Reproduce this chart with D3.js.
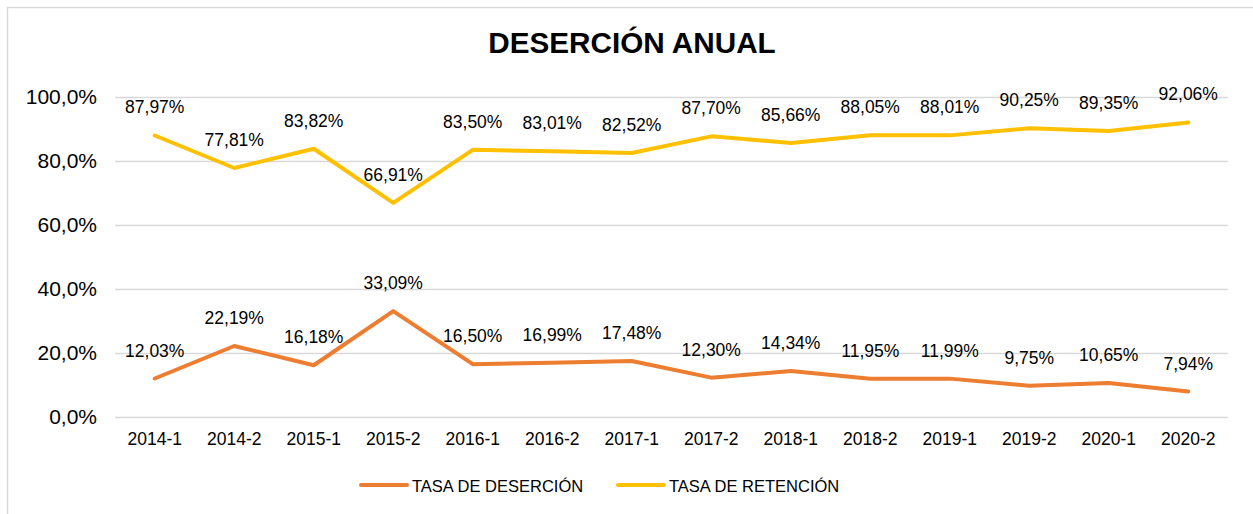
<!DOCTYPE html>
<html>
<head>
<meta charset="utf-8">
<script src="https://cdn.jsdelivr.net/npm/d3@7"></script>
<style>
  body { margin: 0; background: #fff; }
  svg { display: block; font-family: Arial, "Liberation Sans", sans-serif; }
</style>
</head>
<body>
<div id="chart"></div>
<script>
var svgWidth = 1253;
var svgHeight = 514;

var margin = { top: 97, right: 25, bottom: 97, left: 115 };
var width = svgWidth - margin.left - margin.right;
var height = svgHeight - margin.top - margin.bottom;

// data
var periods = ["2014-1", "2014-2", "2015-1", "2015-2", "2016-1", "2016-2", "2017-1",
               "2017-2", "2018-1", "2018-2", "2019-1", "2019-2", "2020-1", "2020-2"];
var desercion = [0.1203, 0.2219, 0.1618, 0.3309, 0.1650, 0.1699, 0.1748,
                 0.1230, 0.1434, 0.1195, 0.1199, 0.0975, 0.1065, 0.0794];
var retencion = [0.8797, 0.7781, 0.8382, 0.6691, 0.8350, 0.8301, 0.8252,
                 0.8770, 0.8566, 0.8805, 0.8801, 0.9025, 0.8935, 0.9206];
var yTicks = [0, 0.2, 0.4, 0.6, 0.8, 1.0];

var series = [
  { name: "TASA DE DESERCIÓN", values: desercion, color: "#ED7D31" },
  { name: "TASA DE RETENCIÓN", values: retencion, color: "#FFC000" }
];

var es = d3.formatLocale({ decimal: ",", thousands: ".", grouping: [3], currency: ["", "€"] });
var pct2 = es.format(".2%");
var pct1 = es.format(".1%");

var svg = d3.select("#chart").append("svg")
  .attr("width", svgWidth)
  .attr("height", svgHeight);

// chart frame
svg.append("rect")
  .attr("x", 7.5).attr("y", 7.5)
  .attr("width", svgWidth + 20).attr("height", svgHeight + 20)
  .attr("fill", "none")
  .attr("stroke", "#D9D9D9")
  .attr("stroke-width", 1.5);

svg.append("text")
  .attr("x", 632).attr("y", 53)
  .attr("text-anchor", "middle")
  .style("font-size", "29.7px")
  .style("font-weight", "bold")
  .attr("fill", "#000")
  .text("DESERCIÓN ANUAL");

var chartGroup = svg.append("g")
  .attr("transform", `translate(${margin.left}, ${margin.top})`);

var xScale = d3.scaleBand()
  .domain(periods)
  .range([0, width]);

var yScale = d3.scaleLinear()
  .domain([0, 1])
  .range([height, 0]);

// gridlines + y labels
var leftAxis = d3.axisLeft(yScale)
  .tickValues(yTicks)
  .tickSize(-width)
  .tickPadding(18)
  .tickFormat(pct1);

var yAxis = chartGroup.append("g").call(leftAxis);
yAxis.select(".domain").remove();
yAxis.selectAll(".tick line").attr("stroke", "#D9D9D9").attr("stroke-width", 1.5);
yAxis.selectAll(".tick text")
  .attr("fill", "#000")
  .style("font-size", "21px")
  .attr("x", -18);

// x axis labels
var bottomAxis = d3.axisBottom(xScale).tickSize(0).tickPadding(16);
var xAxis = chartGroup.append("g")
  .attr("transform", `translate(0, ${height})`)
  .call(bottomAxis);
xAxis.select(".domain").remove();
xAxis.selectAll(".tick text")
  .attr("fill", "#000")
  .style("font-size", "17.5px");

var xc = function(i) { return xScale(periods[i]) + xScale.bandwidth() / 2; };

var line = d3.line()
  .x(function(d, i) { return xc(i); })
  .y(function(d) { return yScale(d); });

series.forEach(function(s) {
  chartGroup.append("path")
    .datum(s.values)
    .attr("fill", "none")
    .attr("stroke", s.color)
    .attr("stroke-width", 4)
    .attr("stroke-linejoin", "round")
    .attr("stroke-linecap", "round")
    .attr("d", line);

  chartGroup.selectAll(null)
    .data(s.values)
    .enter()
    .append("text")
    .attr("x", function(d, i) { return xc(i); })
    .attr("y", function(d) { return yScale(d) - 22; })
    .attr("text-anchor", "middle")
    .attr("fill", "#000")
    .style("font-size", "17.5px")
    .text(function(d) { return pct2(d); });
});

// legend
var legend = svg.append("g");
var legendX = [361, 618];
series.forEach(function(s, i) {
  legend.append("line")
    .attr("x1", legendX[i]).attr("x2", legendX[i] + 46)
    .attr("y1", 485).attr("y2", 485)
    .attr("stroke", s.color)
    .attr("stroke-width", 4)
    .attr("stroke-linecap", "round");
  legend.append("text")
    .attr("x", legendX[i] + 51).attr("y", 492)
    .attr("fill", "#000")
    .style("font-size", "16.5px")
    .text(s.name);
});
</script>
</body>
</html>
